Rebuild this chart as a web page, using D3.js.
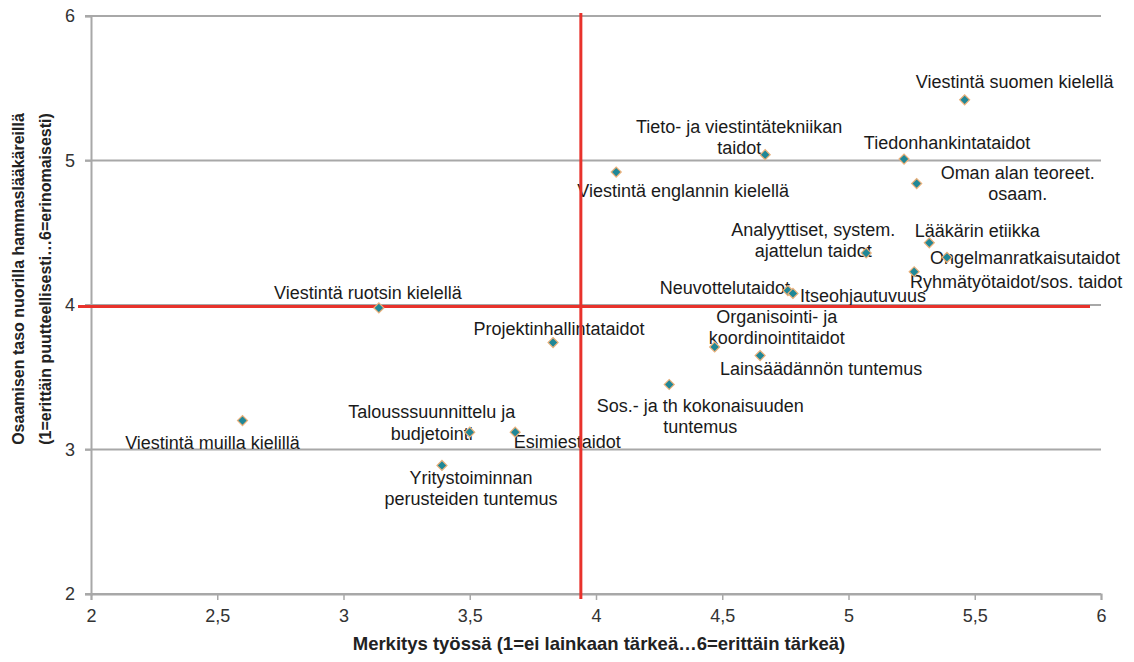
<!DOCTYPE html>
<html>
<head>
<meta charset="utf-8">
<script src="https://cdn.jsdelivr.net/npm/d3@7"></script>
<style>
  body { margin: 0; background: #fff; }
  svg { display: block; font-family: "Liberation Sans", Arial, sans-serif; }
</style>
</head>
<body>
<div id="chart"></div>
<script>
// skills, importance at work (x) and competence of young dentists (y)
var skills = [
  "Viestintä suomen kielellä",
  "Tieto- ja viestintätekniikan\ntaidot",
  "Tiedonhankintataidot",
  "Viestintä englannin kielellä",
  "Oman alan teoreet.\nosaam.",
  "Lääkärin etiikka",
  "Ongelmanratkaisutaidot",
  "Analyyttiset, system.\najattelun taidot",
  "Ryhmätyötaidot/sos. taidot",
  "Neuvottelutaidot",
  "Itseohjautuvuus",
  "Viestintä ruotsin kielellä",
  "Projektinhallintataidot",
  "Organisointi- ja\nkoordinointitaidot",
  "Lainsäädännön tuntemus",
  "Sos.- ja th kokonaisuuden\ntuntemus",
  "Viestintä muilla kielillä",
  "Talousssuunnittelu ja\nbudjetointi",
  "Esimiestaidot",
  "Yritystoiminnan\nperusteiden tuntemus"
];
var importance = [5.46, 4.67, 5.22, 4.08, 5.27, 5.32, 5.39, 5.07, 5.26, 4.76, 4.78,
                  3.14, 3.83, 4.47, 4.65, 4.29, 2.60, 3.50, 3.68, 3.39];
var competence = [5.42, 5.04, 5.01, 4.92, 4.84, 4.43, 4.33, 4.36, 4.23, 4.10, 4.08,
                  3.98, 3.74, 3.71, 3.65, 3.45, 3.20, 3.12, 3.12, 2.89];
var meanImportance = 3.94;
var meanCompetence = 3.99;

var xTicks = [2, 2.5, 3, 3.5, 4, 4.5, 5, 5.5, 6];
var yTicks = [2, 3, 4, 5, 6];
var xTitle = "Merkitys työssä (1=ei lainkaan tärkeä…6=erittäin tärkeä)";
var yTitle = ["Osaamisen taso nuorilla hammaslääkäreillä", "(1=erittäin puutteellisesti…6=erinomaisesti)"];

// where each data label sits relative to its point, in px
var labelOffsets = [
  [50, -18], [-26, -28], [43, -16], [67, 19], [101, -11], [48, -12], [78, 0],
  [-53, -23], [102, 10], [-63, -3], [70, 2], [-11, -15], [6, -14], [62, -30],
  [61, 13], [31, 21], [-30, 22], [-38, -20], [52, 10], [29, 12]
];

var width = 1134, height = 662;
var margin = {top: 16, right: 33, bottom: 68, left: 91};

var svg = d3.select("#chart").append("svg")
  .attr("width", width)
  .attr("height", height);

var x = d3.scaleLinear().domain([2, 6]).range([margin.left, width - margin.right]);
var y = d3.scaleLinear().domain([2, 6]).range([height - margin.bottom, margin.top]);

var fi = d3.formatLocale({decimal: ",", thousands: " ", grouping: [3], currency: ["", " €"]});
var fmt = fi.format("~g");

// horizontal gridlines
svg.append("g")
  .selectAll("line")
  .data(yTicks)
  .enter().append("line")
    .attr("x1", x(2) - 6)
    .attr("x2", x(6))
    .attr("y1", function(d) { return y(d); })
    .attr("y2", function(d) { return y(d); })
    .attr("stroke", "#a8a8a8")
    .attr("stroke-width", 2);

// axes
var xAxis = svg.append("g")
  .attr("transform", "translate(0," + y(2) + ")")
  .call(d3.axisBottom(x).tickValues(xTicks).tickSize(6).tickPadding(9).tickFormat(fmt));

var yAxis = svg.append("g")
  .attr("transform", "translate(" + x(2) + ",0)")
  .call(d3.axisLeft(y).tickValues(yTicks).tickSize(6).tickPadding(10).tickFormat(fmt));

[xAxis, yAxis].forEach(function(g) {
  g.select(".domain").attr("stroke", "#a8a8a8").attr("stroke-width", 2);
  g.selectAll(".tick line").attr("stroke", "#a8a8a8").attr("stroke-width", 1.5);
  g.selectAll(".tick text")
    .attr("fill", "#333")
    .style("font-size", "18px")
    .style("font-family", "'Liberation Sans', Arial, sans-serif");
});

// axis titles
svg.append("text")
  .attr("x", (x(2) + x(6)) / 2 + 3)
  .attr("y", height - 12)
  .attr("text-anchor", "middle")
  .attr("fill", "#222")
  .style("font-size", "18.5px")
  .style("font-weight", "bold")
  .text(xTitle);

svg.append("g")
  .attr("transform", "translate(18," + 279 + ") rotate(-90)")
  .selectAll("text")
  .data(yTitle)
  .enter().append("text")
    .attr("y", function(d, i) { return i * 27; })
    .attr("dy", "0.35em")
    .attr("text-anchor", "middle")
    .attr("fill", "#222")
    .style("font-size", "16px")
    .style("font-weight", "bold")
    .text(function(d) { return d; });

// data labels
var labels = svg.append("g")
  .selectAll("text")
  .data(skills)
  .enter().append("text")
    .attr("x", function(d, i) { return x(importance[i]) + labelOffsets[i][0]; })
    .attr("y", function(d, i) { return y(competence[i]) + labelOffsets[i][1]; })
    .attr("text-anchor", "middle")
    .attr("fill", "#1a1a1a")
    .style("font-size", "18px");

labels.each(function(d, i) {
  var t = d3.select(this);
  d.split("\n").forEach(function(line, j) {
    t.append("tspan")
      .attr("x", x(importance[i]) + labelOffsets[i][0])
      .attr("dy", j === 0 ? "0.35em" : "1.17em")
      .text(line);
  });
});

// mean lines
svg.append("line")
  .attr("x1", x(2) - 13)
  .attr("x2", x(6) - 11)
  .attr("y1", y(meanCompetence))
  .attr("y2", y(meanCompetence))
  .attr("stroke", "#e8322b")
  .attr("stroke-width", 3);

svg.append("line")
  .attr("x1", x(meanImportance))
  .attr("x2", x(meanImportance))
  .attr("y1", y(6) - 3)
  .attr("y2", y(2) + 5)
  .attr("stroke", "#e8322b")
  .attr("stroke-width", 3);

// diamond markers
var diamond = d3.symbol().type(d3.symbolSquare).size(50);
svg.append("g")
  .selectAll("path")
  .data(skills)
  .enter().append("path")
    .attr("d", diamond)
    .attr("transform", function(d, i) {
      return "translate(" + x(importance[i]) + "," + y(competence[i]) + ") rotate(45)";
    })
    .attr("fill", "#1f8797")
    .attr("stroke", "#eab07a")
    .attr("stroke-width", 1.2);
</script>
</body>
</html>
